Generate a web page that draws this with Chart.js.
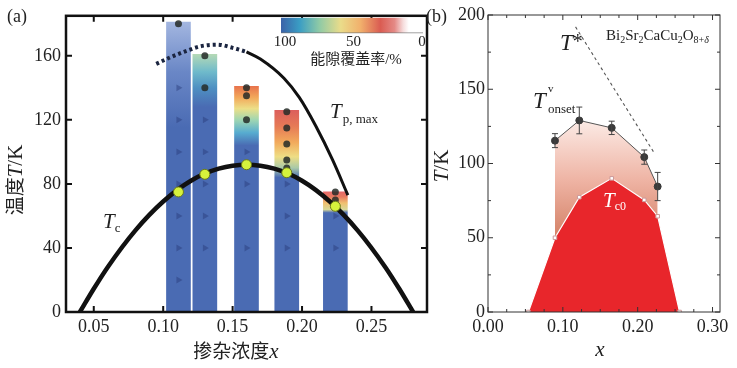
<!DOCTYPE html>
<html><head><meta charset="utf-8">
<script src="https://cdn.jsdelivr.net/npm/chart.js@4.4.0/dist/chart.umd.min.js"></script>
<style>
html,body{margin:0;padding:0;background:#fff;width:737px;height:368px;overflow:hidden}
#a{position:absolute;left:0;top:0}
#b{position:absolute;left:420px;top:0}
</style></head><body>
<canvas id="a" width="440" height="368"></canvas>
<canvas id="b" width="317" height="368"></canvas>
<script>
// ================= DATA: panel (a) =================
const barDoping   = [0.111, 0.130, 0.160, 0.189, 0.224];
const barTopT     = [181, 161, 141, 126, 75];
const tcCurveX    = [0.040, 0.050, 0.060, 0.080, 0.100, 0.120, 0.140, 0.160, 0.180, 0.200, 0.220, 0.240, 0.260, 0.270, 0.280];
const tcCurveT    = [0, 14.5, 28, 51, 69, 82, 89.5, 92, 89.5, 82, 69, 51, 28, 14.5, 0];
const tpDottedX   = [0.095, 0.105, 0.115, 0.127, 0.139, 0.150, 0.160];
const tpDottedT   = [155, 159, 162.5, 166, 167, 165, 162.5];
const tpSolidX    = [0.160, 0.170, 0.187, 0.198, 0.210, 0.222, 0.233];
const tpSolidT    = [162.5, 158, 146, 134, 116, 95, 73];
const tcPointX    = [0.111, 0.130, 0.160, 0.189, 0.224];
const tcPointT    = [75, 86, 92, 87, 66];
const gapDotX     = [0.111, 0.130, 0.130, 0.160, 0.160, 0.160, 0.189, 0.189, 0.189, 0.189, 0.189, 0.224, 0.224];
const gapDotT     = [180, 160, 140, 140, 135, 120, 125, 115, 105, 95, 90, 75, 70];
const noGapX      = [0.111, 0.111, 0.111, 0.111, 0.111, 0.111, 0.111, 0.130, 0.130, 0.130, 0.130, 0.130, 0.160, 0.160, 0.160, 0.189, 0.189, 0.189, 0.224, 0.224];
const noGapT      = [140, 120, 100, 80, 60, 40, 20, 120, 100, 80, 60, 40, 100, 80, 40, 80, 60, 40, 60, 40];
const xTicksA     = [0.05, 0.10, 0.15, 0.20, 0.25];
const yTicksA     = [0, 40, 80, 120, 160];
const coverageTicks = [100, 50, 0];

// ================= DATA: panel (b) =================
const onsetX   = [0.0895, 0.122, 0.1653, 0.2088, 0.2267];
const onsetT   = [115.4, 129, 124, 104.3, 84.5];
const onsetErr = [4.7, 9, 4.5, 4.8, 9.5];
const tc0X     = [0.054, 0.0895, 0.122, 0.1653, 0.2088, 0.2267, 0.256];
const tc0T     = [0, 50, 77.3, 90, 75.5, 64.5, 0];
const tStarX   = [0.117, 0.221];
const tStarT   = [192, 108];
const xTicksB  = [0, 0.1, 0.2, 0.3];
const yTicksB  = [0, 50, 100, 150, 200];

// ================= STYLE =================
const SERIF = '"Liberation Serif","Times New Roman","DejaVu Serif",serif';
const CJK = '"Noto Sans CJK SC","Noto Sans",sans-serif';
const BLUE = '#4a6bb3';
const barStops = [
  [[0, BLUE], [115, BLUE], [150, '#6a87c6'], [181, '#a3b6e0']],
  [[0, BLUE], [128, BLUE], [140, '#4e90c2'], [150, '#6fbacb'], [161, '#b4d9b6']],
  [[0, BLUE], [104, BLUE], [112, '#57acd0'], [120, '#9fd6b2'], [127, '#ecdf88'], [134, '#f2a85a'], [141, '#e8734c']],
  [[0, BLUE], [84, BLUE], [90, '#a9c9a8'], [97, '#eedd84'], [106, '#f2aa5c'], [116, '#e67a56'], [126, '#dc5f5c']],
  [[0, BLUE], [62, BLUE], [64, '#d8d898'], [68, '#f0c070'], [72, '#e87a60'], [75, '#e66a6a']]
];
const cbarStops = [[0, '#3b62a8'], [0.13, '#3a9dc4'], [0.27, '#8fcaa6'], [0.42, '#eadc8a'], [0.56, '#f1b06c'], [0.70, '#da5c52'], [0.80, '#e48a86'], [0.86, '#f6dcdc'], [0.9, '#ffffff'], [1, '#ffffff']];

function barFill(c) {
  const ch = c.chart;
  if (!ch.chartArea || c.dataIndex === undefined) return BLUE;
  const y = ch.scales.y, i = c.dataIndex;
  const y0 = y.getPixelForValue(0), y1 = y.getPixelForValue(barTopT[i]);
  const g = ch.ctx.createLinearGradient(0, y0, 0, y1);
  barStops[i].forEach(([t, col]) => g.addColorStop(Math.max(0, Math.min(1, t / barTopT[i])), col));
  return g;
}

function rich(ctx, x, y, parts, align) {
  ctx.textAlign = 'left';
  ctx.textBaseline = 'alphabetic';
  let w = 0;
  parts.forEach(p => { ctx.font = p.f; w += ctx.measureText(p.t).width + (p.gap || 0); });
  let cx = align === 'center' ? x - w / 2 : align === 'right' ? x - w : x;
  parts.forEach(p => {
    ctx.font = p.f; ctx.fillStyle = p.c || '#222';
    ctx.fillText(p.t, cx, y + (p.dy || 0));
    cx += ctx.measureText(p.t).width + (p.gap || 0);
  });
}

const frameTicks = {
  id: 'frameTicks',
  afterDatasetsDraw(chart, args, o) {
    const {ctx, chartArea: a, scales: {x, y}} = chart;
    ctx.save();
    ctx.strokeStyle = o.color;
    ctx.lineWidth = o.tickWidth;
    const dx = (v, len) => { const p = x.getPixelForValue(v); ctx.beginPath(); ctx.moveTo(p, a.bottom); ctx.lineTo(p, a.bottom - len); ctx.moveTo(p, a.top); ctx.lineTo(p, a.top + len); ctx.stroke(); };
    const dy = (v, len) => { const p = y.getPixelForValue(v); ctx.beginPath(); ctx.moveTo(a.left, p); ctx.lineTo(a.left + len, p); ctx.moveTo(a.right, p); ctx.lineTo(a.right - len, p); ctx.stroke(); };
    o.xMajor.forEach(v => dx(v, o.major));
    (o.xMinor || []).forEach(v => dx(v, o.minor));
    o.yMajor.forEach(v => dy(v, o.major));
    (o.yMinor || []).forEach(v => dy(v, o.minor));
    ctx.lineWidth = o.width;
    ctx.strokeRect(a.left, a.top, a.right - a.left, a.bottom - a.top);
    ctx.restore();
  }
};

const decoA = {
  id: 'decoA',
  afterDatasetsDraw(chart) {
    const ctx = chart.ctx, a = chart.chartArea;
    ctx.save();
    const cx0 = 281, cx1 = 423, cy0 = a.top + 2, cy1 = a.top + 17;
    const g = ctx.createLinearGradient(cx0, 0, cx1, 0);
    cbarStops.forEach(([p, col]) => g.addColorStop(p, col));
    ctx.fillStyle = g;
    ctx.fillRect(cx0, cy0, cx1 - cx0, cy1 - cy0);
    ctx.strokeStyle = 'rgba(60,60,60,0.6)'; ctx.lineWidth = 0.8;
    ctx.beginPath(); ctx.moveTo(cx0, cy1); ctx.lineTo(cx1, cy1); ctx.stroke();
    const cbPix = v => 285 + (100 - v) / 100 * 137;
    coverageTicks.forEach(v => rich(ctx, cbPix(v), 46, [{t: String(v), f: '15px ' + SERIF}], 'center'));
    rich(ctx, 356, 64, [{t: '能隙覆盖率', f: '15px ' + CJK}, {t: '/%', f: '15px ' + SERIF}], 'center');
    rich(ctx, 103, 228, [{t: 'T', f: 'italic 21px ' + SERIF}, {t: 'c', f: '13px ' + SERIF, dy: 4}]);
    rich(ctx, 330, 118, [{t: 'T', f: 'italic 21px ' + SERIF, gap: 1}, {t: 'p, max', f: '13px ' + SERIF, dy: 5}]);
    ctx.restore();
  },
  afterDraw(chart) {
    const ctx = chart.ctx;
    ctx.save();
    rich(ctx, 7, 22, [{t: '(a)', f: '18px ' + SERIF}]);
    rich(ctx, 236, 358, [{t: '掺杂浓度', f: '19px ' + CJK}, {t: 'x', f: 'italic 21px ' + SERIF}], 'center');
    ctx.translate(22, 180); ctx.rotate(-Math.PI / 2);
    rich(ctx, 0, 0, [{t: '温度', f: '19px ' + CJK}, {t: 'T', f: 'italic 21px ' + SERIF}, {t: '/K', f: '21px ' + SERIF}], 'center');
    ctx.restore();
  }
};

const decoB = {
  id: 'decoB',
  afterDatasetsDraw(chart) {
    const ctx = chart.ctx, x = chart.scales.x, y = chart.scales.y;
    ctx.save();
    ctx.strokeStyle = '#444'; ctx.lineWidth = 1;
    onsetX.forEach((vx, i) => {
      const px = x.getPixelForValue(vx), t = y.getPixelForValue(onsetT[i] + onsetErr[i]), b = y.getPixelForValue(onsetT[i] - onsetErr[i]);
      ctx.beginPath(); ctx.moveTo(px, t); ctx.lineTo(px, b);
      ctx.moveTo(px - 3, t); ctx.lineTo(px + 3, t); ctx.moveTo(px - 3, b); ctx.lineTo(px + 3, b); ctx.stroke();
    });
    rich(ctx, 140, 50, [{t: 'T', f: 'italic 23px ' + SERIF}, {t: '*', f: '20px ' + SERIF, dy: -2}]);
    rich(ctx, 186, 40, [
      {t: 'Bi', f: '15px ' + SERIF}, {t: '2', f: '10px ' + SERIF, dy: 3},
      {t: 'Sr', f: '15px ' + SERIF}, {t: '2', f: '10px ' + SERIF, dy: 3},
      {t: 'CaCu', f: '15px ' + SERIF}, {t: '2', f: '10px ' + SERIF, dy: 3},
      {t: 'O', f: '15px ' + SERIF}, {t: '8+', f: '10px ' + SERIF, dy: 3}, {t: 'δ', f: 'italic 10px ' + SERIF, dy: 3}]);
    rich(ctx, 113, 108, [{t: 'T', f: 'italic 23px ' + SERIF}]);
    rich(ctx, 128, 92, [{t: 'v', f: '11px ' + SERIF}]);
    rich(ctx, 128, 113, [{t: 'onset', f: '13px ' + SERIF}]);
    rich(ctx, 183, 207, [{t: 'T', f: 'italic 21px ' + SERIF, c: '#fff'}, {t: 'c0', f: '12px ' + SERIF, dy: 3, c: '#fff'}]);
    ctx.restore();
  },
  afterDraw(chart) {
    const ctx = chart.ctx;
    ctx.save();
    rich(ctx, 6, 22, [{t: '(b)', f: '18px ' + SERIF}]);
    rich(ctx, 180, 356, [{t: 'x', f: 'italic 21px ' + SERIF}], 'center');
    ctx.translate(28, 166); ctx.rotate(-Math.PI / 2);
    rich(ctx, 0, 0, [{t: 'T', f: 'italic 21px ' + SERIF}, {t: '/K', f: '21px ' + SERIF}], 'center');
    ctx.restore();
  }
};

const pts = (xs, ys) => xs.map((v, i) => ({x: v, y: ys[i]}));

function axis(min, max, ticksArr, fmt, fit, isX, pad) {
  return {
    type: 'linear', min, max, offset: false,
    grid: {display: false, drawTicks: false}, border: {display: false},
    afterBuildTicks: s => { s.ticks = ticksArr.map(v => ({value: v})); },
    afterFit: s => { if (isX) s.height = fit; else s.width = fit; },
    ticks: {callback: fmt, autoSkip: false, maxRotation: 0, padding: pad, color: '#222', font: {family: SERIF, size: 18}}
  };
}

new Chart(document.getElementById('a'), {
  type: 'bar',
  data: {datasets: [
    {type: 'bar', data: pts(barDoping, barTopT), backgroundColor: barFill, barThickness: 24, borderWidth: 0, order: 10},
    {type: 'scatter', data: pts(noGapX, noGapT), pointStyle: 'triangle', rotation: 90, pointRadius: 4, backgroundColor: 'rgba(40,58,120,0.45)', borderWidth: 0, order: 9},
    {type: 'scatter', data: pts(gapDotX, gapDotT), pointRadius: 3.5, backgroundColor: 'rgba(38,44,40,0.85)', borderWidth: 0, order: 8},
    {type: 'line', data: pts(tcCurveX, tcCurveT), borderColor: '#111', borderWidth: 4.5, pointRadius: 0, cubicInterpolationMode: 'monotone', fill: false, order: 7},
    {type: 'line', data: pts(tpDottedX, tpDottedT), borderColor: '#1b2540', borderWidth: 4, borderDash: [3, 3], pointRadius: 0, cubicInterpolationMode: 'monotone', fill: false, order: 6},
    {type: 'line', data: pts(tpSolidX, tpSolidT), borderColor: '#111', borderWidth: 3, pointRadius: 0, cubicInterpolationMode: 'monotone', fill: false, order: 6},
    {type: 'scatter', data: pts(tcPointX, tcPointT), pointRadius: 5, backgroundColor: '#d6f23c', borderColor: '#6b7a1a', borderWidth: 1, order: 1}
  ]},
  options: {
    responsive: false, animation: false, devicePixelRatio: 1,
    layout: {padding: {left: 0, right: 13, top: 14, bottom: 0}},
    plugins: {legend: {display: false}, tooltip: {enabled: false},
      frameTicks: {color: '#111', width: 2.5, tickWidth: 2, major: 6, minor: 3, xMajor: xTicksA, yMajor: yTicksA}},
    scales: {
      x: axis(0.03, 0.29, xTicksA, v => v.toFixed(2), 56, true, 4),
      y: axis(0, 185, yTicksA, v => String(v), 66, false, 5)
    }
  },
  plugins: [frameTicks, decoA]
});

function pinkFill(c) {
  const ch = c.chart;
  if (!ch.chartArea) return 'rgba(0,0,0,0)';
  const y = ch.scales.y;
  const g = ch.ctx.createLinearGradient(0, y.getPixelForValue(130), 0, y.getPixelForValue(45));
  g.addColorStop(0, '#fcece7'); g.addColorStop(0.5, '#eeb2a2'); g.addColorStop(1, '#cf7a5e');
  return g;
}
new Chart(document.getElementById('b'), {
  type: 'line',
  data: {datasets: [
    {data: pts(onsetX, onsetT), borderColor: '#555', borderWidth: 1, backgroundColor: pinkFill, fill: 'origin',
     pointRadius: 3.5, pointBackgroundColor: '#3a3a3a', pointBorderColor: '#3a3a3a', order: 5},
    {data: pts(tc0X, tc0T), borderColor: '#fff', borderWidth: 1.2, backgroundColor: '#e8262b', fill: 'origin',
     pointStyle: 'rect', pointRadius: 2.5, pointBackgroundColor: '#fff', pointBorderColor: '#c99', pointBorderWidth: 1, order: 4},
    {data: pts(tStarX, tStarT), borderColor: '#555', borderWidth: 1.1, borderDash: [3, 3], pointRadius: 0, fill: false, order: 3}
  ]},
  options: {
    responsive: false, animation: false, devicePixelRatio: 1,
    layout: {padding: {left: 0, right: 17, top: 15, bottom: 0}},
    plugins: {legend: {display: false}, tooltip: {enabled: false},
      frameTicks: {color: '#333', width: 1, tickWidth: 1, major: 5, minor: 3, xMajor: xTicksB, yMajor: yTicksB,
        xMinor: [0.025, 0.05, 0.075, 0.125, 0.15, 0.175, 0.225, 0.25, 0.275], yMinor: [25, 75, 125, 175]}},
    scales: {
      x: axis(0, 0.31, xTicksB, v => v.toFixed(2), 56, true, 4),
      y: axis(0, 200, yTicksB, v => String(v), 68, false, 3)
    }
  },
  plugins: [frameTicks, decoB]
});
</script>
</body></html>
